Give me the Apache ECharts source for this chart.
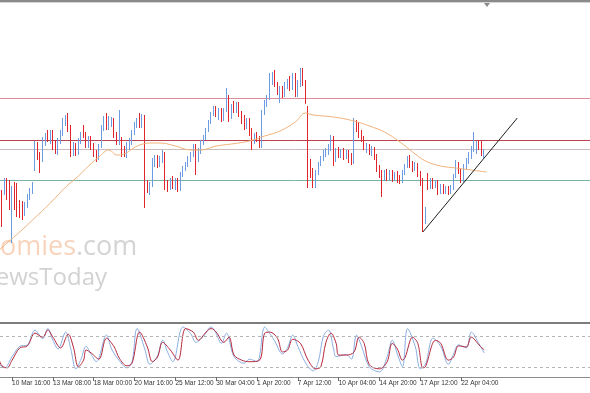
<!DOCTYPE html>
<html><head><meta charset="utf-8">
<script src="https://cdn.jsdelivr.net/npm/echarts@6/dist/echarts.min.js"></script>
<style>html,body{margin:0;padding:0;background:#fff}#c{width:590px;height:393px}</style>
</head><body><div id="c"></div>
<script>
// ---- data ----
const totalSlots = 243;      // bar slots incl. right-hand chart shift
const firstSlot = 11;        // slot of first candle in ohlc
const tickEvery = 16;        // bars between time labels
const tickLabels = ["10 Mar 16:00","13 Mar 08:00","18 Mar 00:00","20 Mar 16:00","25 Mar 12:00","30 Mar 04:00","1 Apr 20:00","7 Apr 12:00","10 Apr 04:00","14 Apr 20:00","17 Apr 12:00","22 Apr 04:00"];
// [open, high, low, close]
const ohlc = [
[253,256,200,204],[204,210,173,185],[210,222,205,218],[218,222,200,205],[212,220,190,196],[196,214,157,208],[215,218,190,195],[205,217,183,188],[196,200,182,190],[197,199,180,185],
[186,198,184,196],[195,206,192,204],[203,212,200,210],[209,218,206,216],[231,259,229,256],[255,258,240,244],[244,248,227,232],[240,263,238,260],[258,267,254,264],[264,270,258,261],
[260,270,256,265],[265,270,250,254],[256,260,246,249],[248,262,245,260],[259,270,256,268],[267,282,264,279],[278,285,274,282],[282,287,268,271],[272,275,243,248],[247,258,244,254],
[254,257,244,247],[247,262,245,259],[259,268,256,266],[268,275,262,264],[265,268,252,255],[255,264,252,261],[261,264,250,253],[254,257,243,246],[247,250,238,241],[242,256,240,254],
[254,275,252,272],[271,284,269,282],[282,287,270,273],[273,284,270,276],[276,283,273,280],[280,282,262,266],[266,268,255,258],[258,290,255,261],[261,263,243,248],[248,254,243,246],
[246,258,242,254],[254,262,250,258],[258,270,255,268],[268,278,265,276],[276,282,272,279],[279,287,272,275],[275,286,272,283],[283,285,192,217],[217,220,207,210],[210,218,205,215],
[215,242,213,238],[238,245,233,242],[242,245,232,235],[235,244,233,241],[241,250,237,246],[246,248,210,215],[215,220,208,212],[212,222,210,220],[220,224,211,214],[214,222,210,219],
[219,222,208,211],[211,228,209,226],[226,234,223,231],[231,238,229,236],[236,244,233,241],[241,248,238,245],[245,256,243,253],[253,256,225,240],[240,252,238,250],[250,260,246,258],
[258,265,255,263],[263,272,260,270],[270,280,268,278],[278,288,276,286],[286,294,284,292],[292,294,283,285],[285,292,280,289],[289,292,278,281],[281,292,279,290],[290,312,288,302],
[302,305,278,283],[283,296,281,294],[294,299,287,290],[290,298,287,295],[295,298,283,286],[286,289,276,280],[280,285,270,274],[274,282,271,279],[279,282,264,268],[268,272,250,258],
[258,267,256,264],[264,268,258,261],[261,264,252,256],[256,290,252,288],[288,300,285,297],[297,305,293,303],[303,327,300,318],[318,328,315,322],[322,330,313,315],[315,318,305,308],
[308,314,297,311],[311,314,302,305],[305,318,303,316],[316,321,311,319],[319,324,309,312],[312,327,310,323],[323,327,303,310],[310,320,303,318],[318,332,313,326],[326,332,314,318],
[318,320,296,300],[292,294,212,238],[238,241,222,226],[226,232,212,218],[218,230,212,228],[228,238,225,236],[236,244,234,242],[242,250,239,247],[247,252,243,249],[249,256,245,252],
[252,265,249,262],[262,264,234,240],[240,252,238,249],[249,253,242,245],[245,251,242,249],[249,252,240,243],[243,250,241,247],[247,250,237,240],[240,247,235,238],[238,282,236,276],
[276,280,268,272],[272,278,262,265],[265,270,258,262],[262,264,250,253],[253,257,247,254],[254,256,245,248],[248,254,244,251],[251,253,240,243],[243,246,228,232],[232,235,222,226],
[226,230,203,222],[222,230,219,228],[228,231,219,222],[222,230,220,228],[228,230,218,221],[221,228,219,226],[226,229,217,220],[220,225,216,219],[219,230,217,228],[228,236,225,234],
[234,244,232,241],[241,245,232,235],[235,239,228,231],[231,238,229,236],[236,237,223,226],[226,229,214,218],[218,222,168,176],[178,193,176,190],[220,227,210,213],[213,222,211,219],
[219,222,211,214],[214,220,212,218],[218,220,205,208],[208,216,206,214],[214,216,206,209],[209,214,206,212],[212,214,205,208],[208,215,206,213],[213,226,210,224],[224,240,222,237],
[237,238,226,228],[228,231,217,220],[220,236,218,233],[233,242,230,239],[239,248,236,245],[245,254,241,251],[251,268,248,255],[255,259,246,257],[257,260,250,253],[253,259,244,247],
[247,251,242,249]
];
// moving average [slot, value]
const maPoints = [[11,150],[14,157],[19,168],[24,180],[31,197],[37,213],[42,224],[46,234],[50,243],[54,250],[57,245],[60,246],[63,251],[66,255],[70,257],[74,257],[80,254],[86,250],[90,250],[96,254],[102,256],[109,259],[115,264],[121,269],[127,278],[131,287],[134,285],[142,283],[150,279],[156,274],[162,268],[168,258],[173,248],[178,239],[184,234],[190,232],[196,230],[202,228]];
// horizontal levels
const levels = [302, 260, 251, 220];
// trend line [slot, value]
const trendline = [[177,168],[214,282]];
// stochastic
const stochMain = [[11,25],[13,18],[16,40],[19,60],[22,63],[25,92],[28,75],[30,95],[32,72],[34,55],[37,88],[39,55],[41,16],[43,35],[45,60],[47,44],[49,30],[53,82],[55,55],[58,32],[61,18],[63,30],[65,95],[68,55],[70,25],[73,42],[75,72],[77,48],[79,30],[83,98],[86,85],[88,68],[91,80],[94,98],[96,85],[98,66],[100,86],[103,40],[107,27],[109,35],[112,30],[115,98],[117,85],[119,70],[122,45],[124,58],[126,82],[128,60],[131,28],[134,12],[136,30],[138,80],[140,92],[142,55],[143,40],[147,44],[149,35],[151,82],[153,60],[156,20],[160,10],[163,40],[165,72],[167,45],[169,20],[171,95],[174,60],[176,16],[178,25],[181,76],[184,60],[187,25],[189,45],[191,63],[194,57],[196,88],[199,65],[201,47]];
const stochSignal = [[11,33],[12,22],[14,18],[16,33],[19,57],[22,61],[25,86],[28,78],[30,92],[32,78],[35,57],[38,84],[40,59],[42,20],[44,33],[45,53],[47,47],[50,35],[53,76],[56,59],[58,37],[61,22],[63,27],[66,88],[69,59],[71,30],[73,39],[75,68],[78,53],[81,33],[84,95],[87,88],[89,72],[92,88],[94,95],[96,88],[99,68],[101,78],[103,43],[106,33],[109,30],[113,33],[115,86],[117,88],[120,76],[122,49],[124,53],[126,74],[129,66],[132,33],[135,16],[137,20],[139,68],[141,86],[143,66],[144,43],[147,43],[150,49],[152,78],[154,66],[156,24],[160,16],[163,30],[165,66],[167,55],[169,33],[170,38],[173,78],[175,66],[177,18],[178,20],[182,72],[184,66],[187,33],[189,39],[191,61],[194,59],[196,78],[199,63],[201,53]];
const stochLevels = [20, 80];

// ---- build ----
const cats = new Array(totalSlots).fill('');
tickLabels.forEach((t, k) => { cats[(k + 1) * tickEvery] = t; });
const candleData = [];
for (let s = 0; s < totalSlots; s++) {
  const r = ohlc[s - firstSlot];
  candleData.push(r ? [r[0], r[3], r[2], r[1]] : '-');
}
const showTick = (i, v) => v !== '';
const levelColors = ['#dc8c9a', '#b8424e', '#cdbcbc', '#78b4a4'];
const BLUE = '#6b9be0', RED = '#e0262c';

const chart = echarts.init(document.getElementById('c'), null, {renderer: 'canvas'});
chart.setOption({
  animation: false,
  backgroundColor: '#ffffff',
  grid: [
    {left: -30, right: 0, top: 3, height: 320, outerBoundsMode: 'none', containLabel: false},
    {left: -30, right: 0, top: 326, height: 51, outerBoundsMode: 'none', containLabel: false}
  ],
  xAxis: [
    {type: 'category', gridIndex: 0, data: cats, show: false, boundaryGap: true},
    {type: 'category', gridIndex: 1, data: cats, boundaryGap: true,
     axisLine: {show: true, lineStyle: {color: '#8c8c8c', width: 1}},
     axisTick: {show: true, interval: showTick, alignWithLabel: true, length: 4, lineStyle: {color: '#6c6c6c'}},
     axisLabel: {show: true, interval: showTick, align: 'left', margin: 3, fontSize: 6.5,
                 showMinLabel: true, showMaxLabel: true, hideOverlap: false,
                 fontFamily: '"Liberation Sans", Arial, sans-serif', color: '#333'},
     splitLine: {show: false}}
  ],
  yAxis: [
    {type: 'value', gridIndex: 0, min: 77, max: 397, show: false, splitLine: {show: false}},
    {type: 'value', gridIndex: 1, min: 0, max: 100, show: false, splitLine: {show: false}}
  ],
  graphic: [
    {type: 'text', z: -1, silent: true, style: {x: 76, y: 261, text: 'Economies', textAlign: 'right', textVerticalAlign: 'bottom',
      font: '27px "Open Sans", sans-serif', fill: '#f8d4bd'}},
    {type: 'text', z: -1, silent: true, style: {x: 76, y: 261, text: '.com', textAlign: 'left', textVerticalAlign: 'bottom',
      font: '27px "Open Sans", sans-serif', fill: '#d4d4d4'}},
    {type: 'text', z: -1, silent: true, style: {x: 107, y: 290, text: 'NewsToday', textAlign: 'right', textVerticalAlign: 'bottom',
      font: '24px "Open Sans", sans-serif', fill: '#d2d2d2'}},
    {type: 'rect', z: 50, silent: true, shape: {x: 0, y: 0, width: 590, height: 2}, style: {fill: '#8a8a8a'}},
    {type: 'rect', z: 50, silent: true, shape: {x: 0, y: 2, width: 590, height: 1}, style: {fill: '#d4d4d4'}},
    {type: 'polygon', z: 51, silent: true, shape: {points: [[484, 3], [490, 3], [487, 7]]}, style: {fill: '#8a8a8a'}},
    {type: 'rect', z: 50, silent: true, shape: {x: 0, y: 322, width: 590, height: 2}, style: {fill: '#7c7c7c'}}
  ],
  series: [
    {type: 'candlestick', xAxisIndex: 0, yAxisIndex: 0, data: candleData, barWidth: 1, z: 3,
     itemStyle: {color: BLUE, color0: RED, borderColor: BLUE, borderColor0: RED, borderWidth: 1},
     markLine: {silent: true, symbol: ['none', 'none'], label: {show: false}, z: 1,
       data: levels.map((v, i) => ({yAxis: v, lineStyle: {color: levelColors[i], width: 1, type: 'solid'}}))}},
    {type: 'line', xAxisIndex: 0, yAxisIndex: 0, data: maPoints, symbol: 'none', smooth: 0.4, z: 4,
     lineStyle: {color: '#f0b27c', width: 1}},
    {type: 'line', xAxisIndex: 0, yAxisIndex: 0, data: trendline, symbol: 'none', z: 5,
     lineStyle: {color: '#1e1e1e', width: 1}},
    {type: 'line', xAxisIndex: 1, yAxisIndex: 1, data: stochMain, symbol: 'none', smooth: 0.35, z: 3,
     lineStyle: {color: '#8aaee2', width: 1},
     markLine: {silent: true, symbol: ['none', 'none'], label: {show: false},
       data: stochLevels.map(v => ({yAxis: v})), lineStyle: {color: '#b4b4b4', width: 1, type: [3, 3]}}},
    {type: 'line', xAxisIndex: 1, yAxisIndex: 1, data: stochSignal, symbol: 'none', smooth: 0.35, z: 4,
     lineStyle: {color: '#b4283c', width: 1}}
  ]
});
</script></body></html>
